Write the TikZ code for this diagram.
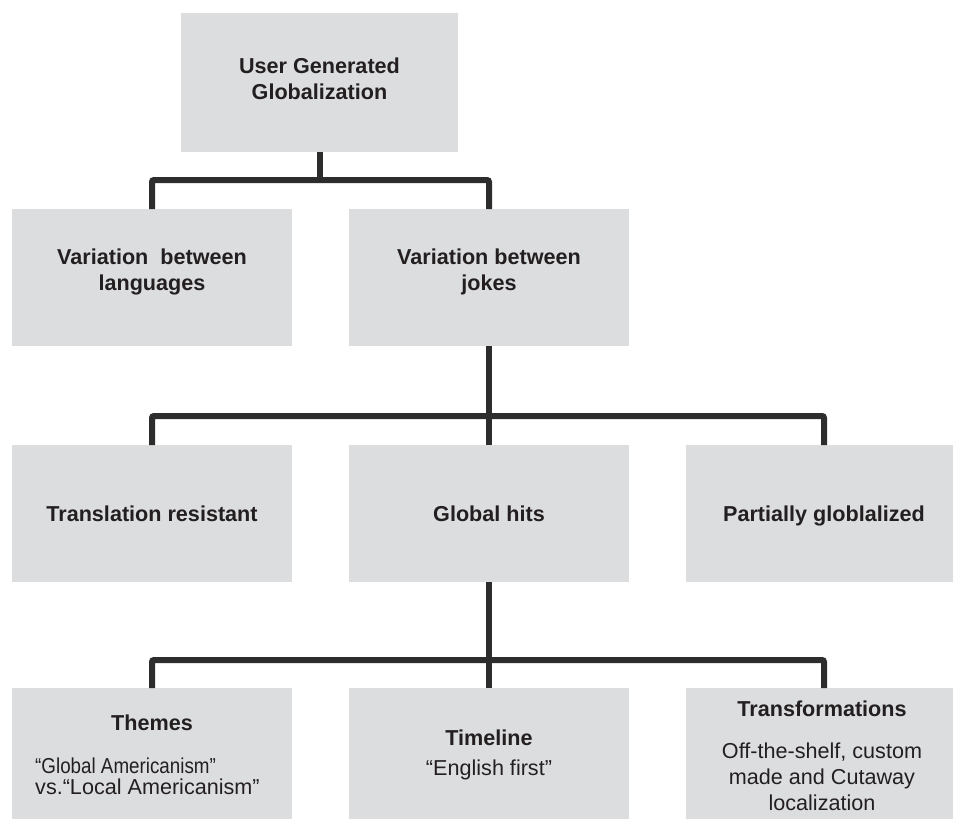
\documentclass[tikz,border=0pt]{standalone}
\usepackage{fontspec}
\usepackage{graphicx}
\setmainfont{Liberation Sans}
\definecolor{boxgray}{RGB}{220,221,223}
\definecolor{linegray}{RGB}{45,45,45}
\definecolor{txtcol}{RGB}{35,31,32}
\begin{document}
\begin{tikzpicture}[x=1pt,y=-1pt,
  box/.style={draw=none,fill=boxgray,inner sep=0pt,outer sep=0pt,anchor=north west,
              minimum width=280pt,minimum height=137pt},
  conn/.style={draw=linegray,line width=6pt,rounded corners=2pt},
  ttl/.style={inner sep=0pt,text=txtcol,font=\fontsize{21.6pt}{26pt}\selectfont\bfseries,align=center},
  sub/.style={inner sep=0pt,text=txtcol,font=\fontsize{21.6pt}{26pt}\selectfont,align=center}]
\useasboundingbox (0,0) rectangle (953,819);
\clip (0,0) rectangle (953,819);
% boxes
\node[box,minimum width=277pt,minimum height=139pt] (top) at (181,13) {};
\node[box] (lang) at (12,209) {};
\node[box] (jokes) at (349,209) {};
\node[box] (trans) at (12,445) {};
\node[box] (hits) at (349,445) {};
\node[box,minimum width=276pt] (part) at (686,445) {};
\node[box,minimum height=140pt] (themes) at (12,688) {};
\node[box,minimum height=140pt] (timeline) at (349,688) {};
\node[box,minimum width=276pt,minimum height=140pt] (transf) at (686,688) {};
% bus coordinates
\coordinate (bus1) at (320,180);
\coordinate (bus2) at (489,416);
\coordinate (bus3) at (489,660);
% connectors
\draw[conn] (top.south) -- (top.south |- bus1);
\draw[conn] (lang.north) |- (bus1) -| (jokes.north);
\draw[conn] (jokes.south) -- (bus2);
\draw[conn] (trans.north) |- (bus2) -| (part.north);
\draw[conn] (bus2) -- (hits.north);
\draw[conn] (hits.south) -- (bus3);
\draw[conn] (themes.north) |- (bus3) -| (transf.north);
\draw[conn] (bus3) -- (timeline.north);
% texts
\node[ttl] (ttop) at (319.5,79) {User Generated\\Globalization};
\node[ttl] (tlang) at (152,272) {Variation~ between\\languages};
\node[ttl] (tjokes) at (489,272) {Variation between\\jokes};
\node[ttl] (ttrans) at (152,514) {Translation resistant};
\node[ttl] (thits) at (489,514) {Global hits};
\node[ttl] (tpart) at (824,516) {Partially globlalized};
\node[ttl] (tthemes) at (152,723) {Themes};
\node[sub,align=left,font=\fontsize{21.6pt}{21pt}\selectfont,anchor=west] (sthemes) at (35,776) {\scalebox{0.87}[1]{“Global Americanism”}\\vs.“Local Americanism”};
\node[ttl] (ttimeline) at (489,738) {Timeline};
\node[sub] (stimeline) at (489,770) {“English first”};
\node[ttl] (ttransf) at (822,709) {Transformations};
\node[sub] (stransf) at (822,777) {Off-the-shelf, custom\\made and Cutaway\\localization};
\end{tikzpicture}
\end{document}
